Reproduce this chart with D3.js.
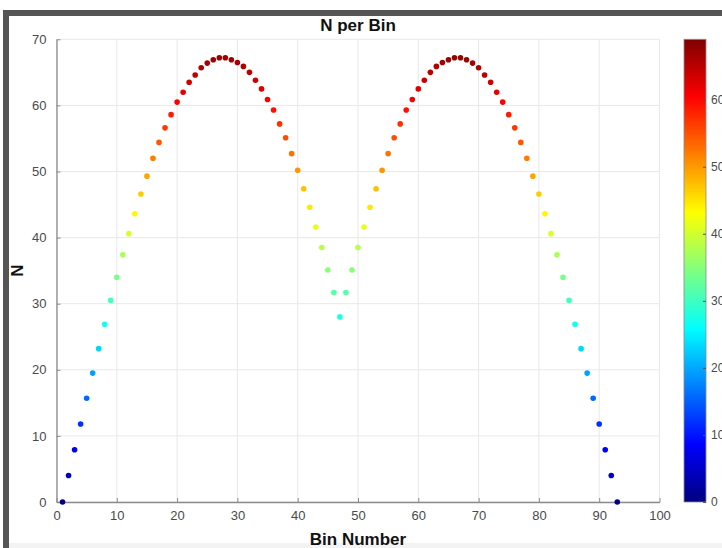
<!DOCTYPE html>
<html>
<head>
<meta charset="utf-8">
<script src="https://cdn.jsdelivr.net/npm/d3@7"></script>
<style>
  body { margin: 0; background: #fff; }
  svg { display: block; font-family: 'Liberation Sans', Arial, sans-serif; }
</style>
</head>
<body>
<div id="chart"></div>
<script>
const binNumbers = d3.range(1, 94);
const counts = [
  0, 4.0, 7.9, 11.8, 15.7, 19.5, 23.2, 26.9, 30.5, 34.0,
  37.4, 40.6, 43.6, 46.6, 49.3, 52.0, 54.4, 56.6, 58.6, 60.5,
  62.0, 63.5, 64.6, 65.7, 66.4, 66.9, 67.2, 67.2, 66.9, 66.5,
  65.9, 65.0, 63.8, 62.5, 60.9, 59.3, 57.2, 55.1, 52.7, 50.2,
  47.4, 44.6, 41.6, 38.5, 35.1, 31.7, 28.0, 31.7, 35.1, 38.5,
  41.6, 44.6, 47.4, 50.2, 52.7, 55.1, 57.2, 59.3, 60.9, 62.5,
  63.8, 65.0, 65.9, 66.5, 66.9, 67.2, 67.2, 66.9, 66.4, 65.7,
  64.6, 63.5, 62.0, 60.5, 58.6, 56.6, 54.4, 52.0, 49.3, 46.6,
  43.6, 40.6, 37.4, 34.0, 30.5, 26.9, 23.2, 19.5, 15.7, 11.8,
  7.9, 4.0, 0
];
const xTicks = d3.range(0, 101, 10);
const yTicks = d3.range(0, 71, 10);
const colorTicks = d3.range(0, 61, 10);
const colorDomainMax = 69;
const jetStops = ['#00007f', '#0000ff', '#00ffff', '#ffff00', '#ff0000', '#7f0000'];

const svgWidth = 722;
const svgHeight = 548;

const margin = { top: 39.3, left: 56.5, right: 62.5, bottom: 46 };
const plotWidth = svgWidth - margin.left - margin.right;
const plotHeight = svgHeight - margin.top - margin.bottom;

const svg = d3.select('#chart')
  .append('svg')
  .attr('width', svgWidth)
  .attr('height', svgHeight);

// frame of the screenshot
svg.append('rect').attr('x', 0).attr('y', 0).attr('width', svgWidth).attr('height', svgHeight).attr('fill', '#fff');
svg.append('rect').attr('x', 3).attr('y', 10).attr('width', svgWidth - 3).attr('height', 6).attr('fill', '#555');
svg.append('rect').attr('x', 3).attr('y', 10).attr('width', 6).attr('height', svgHeight - 10).attr('fill', '#555');
svg.append('rect').attr('x', 9).attr('y', 543).attr('width', svgWidth - 9).attr('height', 5).attr('fill', '#f3f3f3');

const x = d3.scaleLinear().domain([0, 100]).range([0, plotWidth]);
const y = d3.scaleLinear().domain([0, 70]).range([plotHeight, 0]);

const jet = d3.scaleLinear()
  .domain(jetStops.map((c, i) => colorDomainMax * [0, 0.125, 0.375, 0.625, 0.875, 1][i]))
  .range(jetStops)
  .clamp(true);

const chartGroup = svg.append('g')
  .attr('transform', `translate(${margin.left}, ${margin.top})`);

// grid
chartGroup.append('g')
  .selectAll('line')
  .data(xTicks)
  .enter()
  .append('line')
  .attr('x1', (d) => x(d)).attr('x2', (d) => x(d))
  .attr('y1', 0).attr('y2', plotHeight)
  .attr('stroke', '#e8e8e8');

chartGroup.append('g')
  .selectAll('line')
  .data(yTicks)
  .enter()
  .append('line')
  .attr('x1', 0).attr('x2', plotWidth)
  .attr('y1', (d) => y(d)).attr('y2', (d) => y(d))
  .attr('stroke', '#e8e8e8');

const bottomAxis = d3.axisBottom(x).tickValues(xTicks).tickSizeInner(-4).tickSizeOuter(0).tickPadding(9);
const leftAxis = d3.axisLeft(y).tickValues(yTicks).tickSizeInner(-4).tickSizeOuter(0).tickPadding(10);

const xAxis = chartGroup.append('g')
  .attr('transform', `translate(0, ${plotHeight})`)
  .call(bottomAxis);

const yAxis = chartGroup.append('g').call(leftAxis);

[xAxis, yAxis].forEach((axis) => {
  axis.select('.domain').attr('stroke', '#8c8c8c').attr('stroke-width', 1.3);
  axis.selectAll('.tick line').attr('stroke', '#8c8c8c');
  axis.selectAll('.tick text').attr('fill', '#4a4a4a').attr('font-size', '13px').attr('font-family', null);
});

// points
chartGroup.append('g')
  .selectAll('circle')
  .data(counts)
  .enter()
  .append('circle')
  .attr('cx', (d, i) => x(binNumbers[i]))
  .attr('cy', (d) => y(d))
  .attr('r', 2.8)
  .attr('fill', (d) => jet(d));

// titles
svg.append('text')
  .attr('x', margin.left + plotWidth / 2)
  .attr('y', 31)
  .attr('text-anchor', 'middle')
  .attr('font-size', '17px')
  .attr('font-weight', 'bold')
  .attr('fill', '#111')
  .text('N per Bin');

svg.append('text')
  .attr('x', margin.left + plotWidth / 2)
  .attr('y', 545)
  .attr('text-anchor', 'middle')
  .attr('font-size', '17px')
  .attr('font-weight', 'bold')
  .attr('fill', '#111')
  .text('Bin Number');

svg.append('text')
  .attr('transform', `translate(23, ${margin.top + plotHeight / 2}) rotate(-90)`)
  .attr('text-anchor', 'middle')
  .attr('font-size', '17px')
  .attr('font-weight', 'bold')
  .attr('fill', '#111')
  .text('N');

// colorbar
const cbX = 684;
const cbWidth = 22;
const cbScale = d3.scaleLinear().domain([0, colorDomainMax]).range([plotHeight, 0]);

const defs = svg.append('defs');
const gradient = defs.append('linearGradient')
  .attr('id', 'jet-grad')
  .attr('x1', 0).attr('y1', 1).attr('x2', 0).attr('y2', 0);

gradient.selectAll('stop')
  .data(jet.domain())
  .enter()
  .append('stop')
  .attr('offset', (d) => d / colorDomainMax)
  .attr('stop-color', (d) => jet(d));

const cbGroup = svg.append('g')
  .attr('transform', `translate(${cbX}, ${margin.top})`);

cbGroup.append('rect')
  .attr('width', cbWidth)
  .attr('height', plotHeight)
  .attr('fill', 'url(#jet-grad)')
  .attr('stroke', '#8c8c8c')
  .attr('stroke-width', 0.8);

const cbAxis = d3.axisRight(cbScale).tickValues(colorTicks).tickSizeInner(-3).tickSizeOuter(0).tickPadding(5);

const cbAxisGroup = cbGroup.append('g')
  .attr('transform', `translate(${cbWidth}, 0)`)
  .call(cbAxis);

cbAxisGroup.select('.domain').remove();
cbAxisGroup.selectAll('.tick line').attr('stroke', '#555');
cbAxisGroup.selectAll('.tick text').attr('fill', '#4a4a4a').attr('font-size', '12px').attr('font-family', null);
</script>
</body>
</html>
